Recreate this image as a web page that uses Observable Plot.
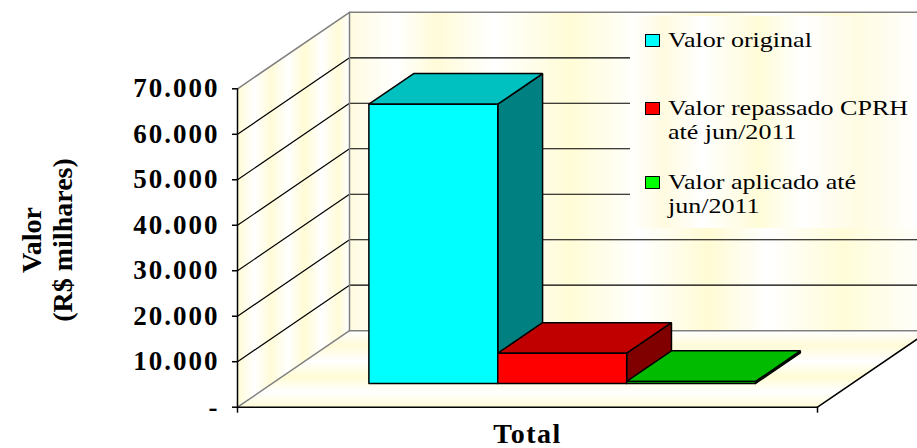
<!DOCTYPE html>
<html>
<head>
<meta charset="utf-8">
<script src="https://cdn.jsdelivr.net/npm/d3@7"></script>
<script src="https://cdn.jsdelivr.net/npm/@observablehq/plot@0.6"></script>
<style>
  html, body { margin: 0; padding: 0; background: #ffffff; overflow: hidden; }
  #wrap { position: relative; width: 917px; height: 448px; }
  #legend {
    position: absolute; left: 630px; top: 16px; width: 287px; height: 212px;
    background: linear-gradient(90deg, #ffffff 0%, #fffbe0 12%, #ffffff 25%, #fffcd8 45%, #ffffff 60%, #fffbe2 80%, #ffffff 100%);
    font-family: "Liberation Serif", "Times New Roman", serif; font-size: 21px; color: #000;
  }
  .item { position: absolute; left: 15px; line-height: 24px; }
  .sw { position: absolute; left: 0; width: 13px; height: 11px; border: 1px solid #000; }
  .lab { position: absolute; left: 23px; white-space: pre; transform: scaleX(1.24); transform-origin: 0 0; }
</style>
</head>
<body>
<div id="wrap"></div>
<script>
// ---- data ----
const categories = ["Total"];
const series = ["Valor original", "Valor repassado CPRH até jun/2011", "Valor aplicado até jun/2011"];
const legendLabels = ["Valor original", "Valor repassado CPRH\naté jun/2011", "Valor aplicado até\njun/2011"];
const values = [61400, 6650, 450];
const yTicks = [0, 10000, 20000, 30000, 40000, 50000, 60000, 70000];
const frontColors = ["#00FFFF", "#FF0000", "#00FF00"];
const topColors = ["#00C0C0", "#C00000", "#00BB00"];
const sideColors = ["#008080", "#800000", "#007A00"];

// ---- 3D projection (oblique), in data units ----
const yMax = 70000;
const DX = 112 / 580;               // depth shift in x-units
const DY = 76.5 / 318.4 * yMax;     // depth shift in value units
const P = (x, v, d) => ({x: x + d * DX, y: v + d * DY});
const poly = pts => { const a = pts.map(([x, v, d]) => P(x, v, d)); a.push(a[0]); return a; };

const groupStart = 1 / 6, barW = (2 / 3) / series.length, d0 = 0.31, d1 = 0.71;

const marks = [];
// walls + floor
marks.push(Plot.line(poly([[0,0,0],[0,yMax,0],[0,yMax,1],[0,0,1]]), {x: "x", y: "y", fill: "url(#wallL)", stroke: "none"}));
marks.push(Plot.line(poly([[0,0,1],[0,yMax,1],[1,yMax,1],[1,0,1]]), {x: "x", y: "y", fill: "url(#wallG)", stroke: "none"}));
marks.push(Plot.line(poly([[0,0,0],[1,0,0],[1,0,1],[0,0,1]]), {x: "x", y: "y", fill: "url(#floorG)", stroke: "none"}));
// gridlines
for (const v of yTicks.filter(v => v > 0 && v < yMax)) {
  marks.push(Plot.line([P(0, v, 0), P(0, v, 1), P(1, v, 1)], {x: "x", y: "y", stroke: "#000", strokeWidth: 1.2}));
}
// gray wall borders
marks.push(Plot.line([P(0, yMax, 0), P(0, yMax, 1), P(1, yMax, 1)], {x: "x", y: "y", stroke: "#808080", strokeWidth: 1.5}));
marks.push(Plot.line([P(0, 0, 0), P(0, 0, 1), P(1, 0, 1)], {x: "x", y: "y", stroke: "#808080", strokeWidth: 1.5}));
marks.push(Plot.line([P(0, 0, 1), P(0, yMax, 1)], {x: "x", y: "y", stroke: "#808080", strokeWidth: 1.5}));
// floor front edges
marks.push(Plot.line([P(0, 0, 0), P(1, 0, 0), P(1, 0, 1)], {x: "x", y: "y", stroke: "#000", strokeWidth: 1.5}));
// bars
values.forEach((v, i) => {
  const x0 = groupStart + i * barW, x1 = x0 + barW;
  const st = {x: "x", y: "y", stroke: "#000", strokeWidth: 1.5, strokeLinejoin: "miter"};
  marks.push(Plot.line(poly([[x1,0,d0],[x1,0,d1],[x1,v,d1],[x1,v,d0]]), {...st, fill: sideColors[i]}));
  marks.push(Plot.line(poly([[x0,v,d0],[x1,v,d0],[x1,v,d1],[x0,v,d1]]), {...st, fill: topColors[i]}));
  marks.push(Plot.line(poly([[x0,0,d0],[x1,0,d0],[x1,v,d0],[x0,v,d0]]), {...st, fill: frontColors[i]}));
});
// axes
marks.push(Plot.ruleX([0], {stroke: "#000", strokeWidth: 1.5}));
marks.push(Plot.axisY({ticks: yTicks, tickSize: 5, tickPadding: 13, fontSize: 27, fontWeight: "bold",
  tickFormat: v => v === 0 ? "-" : d3.format(",")(v).replace(/,/g, "."), stroke: "#000", strokeWidth: 1.5}));
marks.push(Plot.axisX({ticks: [0, 1], tickSize: 6, tickFormat: () => "", stroke: "#000", strokeWidth: 1.5}));
marks.push(Plot.axisX({ticks: [0.5], tickSize: 0, tickPadding: 16, tickFormat: () => categories[0], fontSize: 28, fontWeight: "bold"}));
marks.push(Plot.text(["Valor\n(R$ milhares)"], {frameAnchor: "left", textAnchor: "middle", dx: -191, dy: -8, rotate: -90, fontSize: 28, fontWeight: "bold", lineHeight: 1.12, fill: "#000"}));

const chart = Plot.plot({
  width: 917, height: 448,
  marginLeft: 237, marginRight: 100, marginTop: 88.3, marginBottom: 41.3,
  x: {domain: [0, 1], label: null, axis: null},
  y: {domain: [0, yMax], label: null, axis: null},
  style: {fontFamily: "'Liberation Serif', 'Times New Roman', serif", color: "#000", background: "#fff", overflow: "hidden"},
  marks
});

// gradient defs
const svg = d3.select(chart);
const defs = svg.insert("defs", ":first-child");
function grad(id, stops, vertical) {
  const g = defs.append("linearGradient").attr("id", id).attr("x1", 0).attr("y1", 0)
    .attr("x2", vertical ? 0 : 1).attr("y2", vertical ? 1 : 0);
  stops.forEach(([o, c]) => g.append("stop").attr("offset", o).attr("stop-color", c));
}
grad("wallG", [[0,"#fffbe0"],[0.08,"#ffffff"],[0.15,"#fffbd8"],[0.25,"#ffffff"],[0.38,"#fffcd6"],[0.5,"#ffffff"],[0.62,"#fffbd4"],[0.72,"#ffffff"],[0.85,"#fffcd8"],[1,"#ffffff"]], false);
grad("wallL", [[0,"#fffbd4"],[0.15,"#ffffff"],[0.3,"#fffbd8"],[0.45,"#ffffff"],[0.6,"#fffbd4"],[0.75,"#ffffff"],[0.9,"#fffbd8"],[1,"#ffffff"]], false);
grad("floorG", [[0,"#ffffff"],[0.2,"#fffbd8"],[0.4,"#ffffff"],[0.6,"#fffcd4"],[0.8,"#ffffff"],[1,"#fffbd8"]], true);
svg.selectAll("g[aria-label='y-axis tick label'] text").style("letter-spacing", "2px");
svg.selectAll("g[aria-label='x-axis tick label'] text").style("letter-spacing", "1.5px");

document.getElementById("wrap").appendChild(chart);

// legend overlay
const legend = document.createElement("div");
legend.id = "legend";
const tops = [12, 80, 154];
legendLabels.forEach((lab, i) => {
  const it = document.createElement("div");
  it.className = "item";
  it.style.top = tops[i] + "px";
  it.innerHTML = `<div class="sw" style="top:6px;background:${frontColors[i]}"></div><div class="lab"></div>`;
  it.querySelector(".lab").textContent = lab;
  legend.appendChild(it);
});
document.getElementById("wrap").appendChild(legend);
</script>
</body>
</html>
